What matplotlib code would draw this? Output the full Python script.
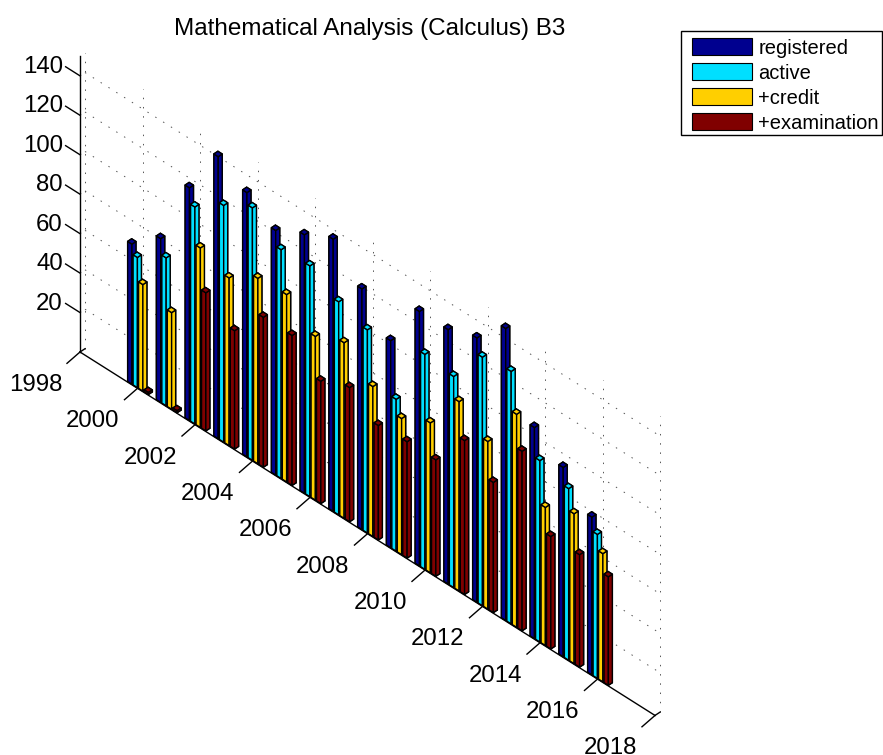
import matplotlib
matplotlib.use('Agg')
import matplotlib.pyplot as plt
from matplotlib.patches import Patch, Rectangle
from mpl_toolkits.mplot3d import proj3d

plt.rcParams['font.family'] = ['Liberation Sans', 'DejaVu Sans']

years = list(range(2000, 2017))
registered = [71, 83, 118, 143, 134, 124, 131, 138, 122, 105, 129, 129, 134, 148, 107, 96, 80]
active = [66, 75, 110, 120, 128, 116, 117, 108, 103, 77, 109, 107, 126, 128, 92, 87, 73]
credit = [54, 49, 91, 85, 94, 95, 83, 89, 76, 69, 76, 96, 85, 108, 70, 76, 65]
examination = [1, 1, 70, 60, 76, 76, 62, 68, 58, 59, 59, 78, 66, 91, 57, 57, 55]

series = [registered, active, credit, examination]
names = ['registered', 'active', '+credit', '+examination']
colors = ['#00008f', '#00dfff', '#ffcf00', '#800000']
year_ticks = list(range(1998, 2019, 2))
z_ticks = list(range(20, 141, 20))

W, H = 883, 755
fig = plt.figure(figsize=(W / 100, H / 100), dpi=100)
ax = fig.add_axes([0, 0, 1, 1], projection='3d', proj_type='ortho')
ax.computed_zorder = False
ax.set_axis_off()
ax.set_xlim(1998, 2018)
ax.set_ylim(0, 1)
ax.set_zlim(0, 150)
ax.view_init(elev=40.2, azim=-45.6)
ax.set_box_aspect((804, 7.15, 387))

# dotted grid on the back wall
dots = dict(color='#555555', lw=0.7, ls=(0, (1.5, 8)), zorder=1)
for yr in year_ticks:
    ax.plot([yr, yr], [1, 1], [0, 150], **dots)
for z in z_ticks:
    ax.plot([1998, 2018], [1, 1], [z, z], **dots)
    ax.plot([1998, 1998], [0, 1], [z, z], **dots)

# bars, far ones first
step = 0.19
w = 0.15
order = 10
for i, yr in enumerate(years):
    for j, vals in enumerate(series):
        x = yr + (j - 1.5) * step - w / 2
        ax.bar3d(x, 0.1, 0, w, 0.8, vals[i], color=colors[j], shade=False,
                 edgecolor='black', linewidth=1.0, zorder=order)
        order += 1

# axis lines and ticks
line = dict(color='black', lw=1, zorder=1000)
ax.plot([1998, 1998], [0, 0], [0, 150], **line)
ax.plot([1998, 2018], [0, 0], [0, 0], **line)
ax.plot([1998, 1998], [0, 1], [0, 0], **line)
ax.plot([2018, 2018], [0, 1], [0, 0], **line)
for z in z_ticks:
    ax.plot([1998, 1997.5], [0, 0], [z, z], **line)
for yr in year_ticks:
    ax.plot([yr, yr], [0, -2.6], [0, -1.4], **line)


def to_px(x, y, z):
    u, v, _ = proj3d.proj_transform(x, y, z, ax.get_proj())
    return ax.transData.transform((u, v))


# put the axes so the 1998 corner and the axis length land where they should
size = 800
ax.set_position([0, 0, size / W, size / H])
fig.canvas.draw()
a = to_px(1998, 0, 0)
b = to_px(2018, 0, 0)
size = size * 575 / (b[0] - a[0])
ax.set_position([0, 0, size / W, size / H])
fig.canvas.draw()
a = to_px(1998, 0, 0)
ax.set_position([(80 - a[0]) / W, ((H - 352) - a[1]) / H, size / W, size / H])
fig.canvas.draw()

# tick labels go on after the axes is placed
for z in z_ticks:
    p = to_px(1997.4, 0, z)
    fig.text(p[0] / W, (p[1] - 2) / H, str(z), ha='right', va='center', fontsize=17.3)
for yr in year_ticks:
    p = to_px(yr, -8.9, -1.3)
    fig.text(p[0] / W, (p[1] - 1) / H, str(yr), ha='center', va='center', fontsize=17.3)

fig.text(370 / W, 1 - 29 / H, 'Mathematical Analysis (Calculus) B3',
         ha='center', va='center', fontsize=17.5)

fig.add_artist(Rectangle((680.5 / W, 1 - 135 / H), 201.5 / W, 104 / H, transform=fig.transFigure,
                         facecolor='white', edgecolor='black', lw=1))
handles = [Patch(facecolor=c, edgecolor='black', lw=0.8) for c in colors]
leg = fig.legend(handles, names, loc='upper left', bbox_to_anchor=(692 / W, 1 - 38.5 / H),
                 fontsize=14.5, frameon=False, handlelength=3.0, handleheight=0.9,
                 handletextpad=0.3, labelspacing=0.28, borderpad=0, borderaxespad=0)

fig.savefig('out.png', dpi=100)
